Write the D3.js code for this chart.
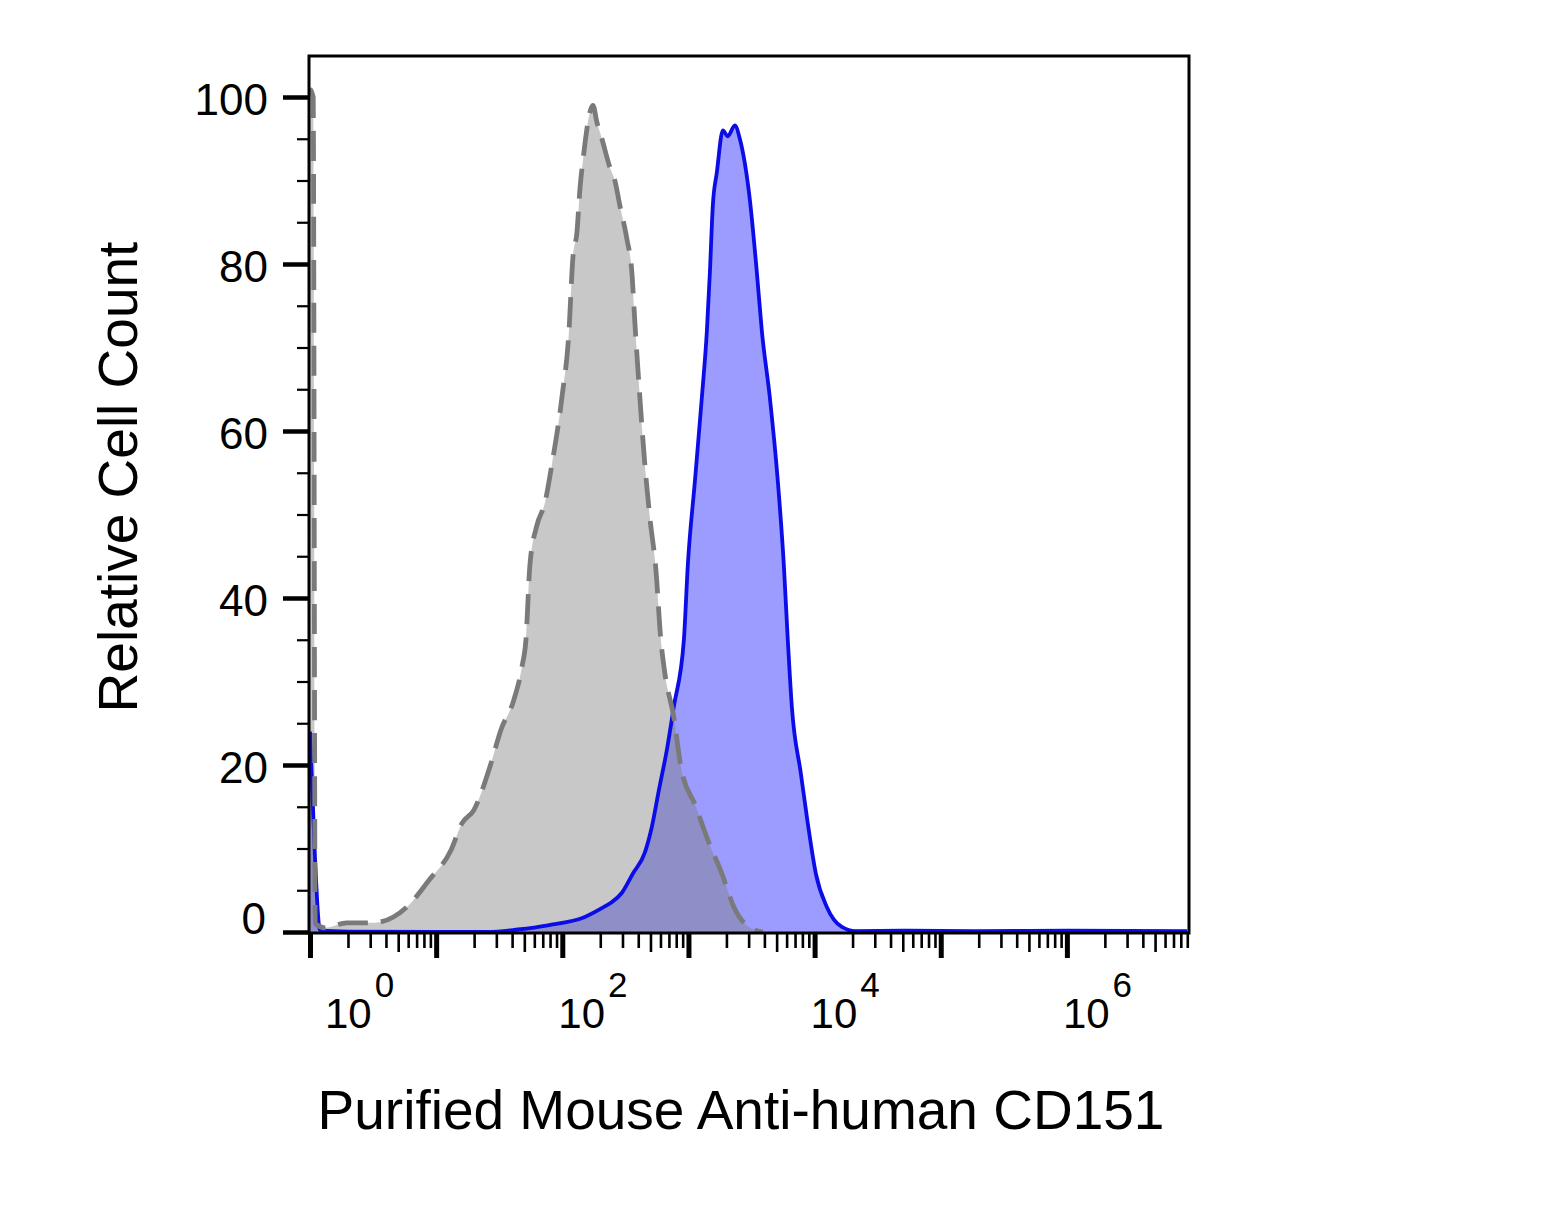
<!DOCTYPE html>
<html lang="en">
<head>
<meta charset="UTF-8">
<title>CD151 histogram</title>
<script src="https://cdn.jsdelivr.net/npm/d3@7"></script>
<style>
    html, body { margin: 0; padding: 0; background: #fff; }
    svg text { font-family: "Liberation Sans", Arial, sans-serif; fill: #000; }
</style>
</head>
<body>
<div id="chart"></div>
<script>
    // isotype control (grey, dashed)
    const isotypeIntensity = [1, 1.06, 1.1, 1.31, 1.96, 3.16, 5.87, 8.77, 13.1, 16.0, 19.9, 26.7, 32.6, 41.3, 47.8, 51.5, 55.4, 62.9, 72.8, 82.7, 99.3, 113, 121, 131, 138, 146, 175, 188, 206, 238, 261, 286, 325, 356, 376, 412, 451, 494, 552, 604, 650, 766, 871, 1145, 1425, 1841, 2290, 3010, 3890];
    const isotypeCount = [101, 100, 1, 0.5, 1.1, 1.1, 3.0, 6.2, 9.8, 13, 14.6, 19.8, 24.2, 27.8, 31.7, 35, 44, 48.7, 51.4, 56, 64, 72, 80.5, 84, 89, 92.5, 99, 97, 95, 91.6, 90, 87, 83, 79, 73, 64, 56, 49.7, 43.4, 35, 31, 25.7, 19.8, 15, 11, 7, 3, 0.6, 0];

    // CD151 stained (blue)
    const cd151Intensity = [1, 1.095, 1.2, 2, 10, 25.7, 44.5, 76.9, 151, 214, 243, 297, 363, 451, 513, 583, 674, 766, 920, 989, 1125, 1277, 1400, 1479, 1560, 1680, 1875, 2053, 2332, 2554, 3067, 3485, 3817, 4418, 5110, 5700, 6130, 6600, 7777, 8833, 10230, 12500, 16430, 21200, 50000, 200000, 1000000, 9000000];
    const cd151Count = [24, 8.9, 0.2, 0.05, 0, 0, 0.3, 0.8, 1.8, 3, 3.5, 4.7, 7, 9.5, 12.6, 17, 21.8, 27, 35, 44, 54, 64, 72, 79, 87, 91, 96, 95.3, 96.6, 95, 87.7, 79, 72, 64, 54, 44, 35, 27, 19, 13, 7, 3, 0.6, 0.1, 0.15, 0.1, 0.15, 0.1];

    const yMajorTicks = [0, 20, 40, 60, 80, 100];
    const yMinorTicks = d3.range(0, 101, 5).filter(v => v % 20 !== 0);
    const xDecades = [0, 1, 2, 3, 4, 5, 6];
    const xLabelDecades = [0, 2, 4, 6];

    const W = 1548, H = 1227;
    const plot = { left: 309, right: 1189, top: 56, bottom: 933 };

    const svg = d3.select("#chart").append("svg")
        .attr("width", W).attr("height", H)
        .attr("viewBox", [0, 0, W, H]);

    const x = d3.scaleLog().domain([1, Math.pow(10, 6.96)]).range([310, 1188]);
    const y = d3.scaleLinear().domain([0, 100]).range([932, 97]);

    svg.append("clipPath").attr("id", "plot-clip")
        .append("rect")
        .attr("x", plot.left).attr("y", plot.top)
        .attr("width", plot.right - plot.left).attr("height", plot.bottom - plot.top);

    const isotype = isotypeIntensity.map((v, i) => ({ v: v, c: isotypeCount[i] }));
    const cd151 = cd151Intensity.map((v, i) => ({ v: v, c: cd151Count[i] }));

    const area = d3.area()
        .x(d => x(d.v)).y0(y(0)).y1(d => y(d.c))
        .curve(d3.curveMonotoneX);
    const line = d3.line()
        .x(d => x(d.v)).y(d => y(d.c))
        .curve(d3.curveMonotoneX);

    const g = svg.append("g").attr("clip-path", "url(#plot-clip)");

    g.append("path").datum(cd151)
        .attr("d", area)
        .attr("fill", "#9c9cff");
    g.append("path").datum(isotype)
        .attr("d", area)
        .attr("fill", "rgb(128,128,128)")
        .attr("fill-opacity", 0.43);
    g.append("path").datum(cd151)
        .attr("d", line)
        .attr("fill", "none")
        .attr("stroke", "#0c0ce6")
        .attr("stroke-width", 3.8)
        .attr("stroke-linejoin", "round");
    g.append("path").datum(isotype)
        .attr("d", line)
        .attr("fill", "none")
        .attr("stroke", "#7a7a7a")
        .attr("stroke-width", 4.8)
        .attr("stroke-dasharray", "30,13");

    // frame
    svg.append("rect")
        .attr("x", plot.left).attr("y", plot.top)
        .attr("width", plot.right - plot.left).attr("height", plot.bottom - plot.top)
        .attr("fill", "none")
        .attr("stroke", "#000")
        .attr("stroke-width", 3);

    // y axis ticks
    const yMinor = svg.append("g")
        .attr("transform", `translate(${plot.left},0)`)
        .call(d3.axisLeft(y).tickValues(yMinorTicks).tickSize(12).tickFormat(""));
    yMinor.select(".domain").remove();
    yMinor.selectAll("line").attr("stroke-width", 2.2);

    const yMajor = svg.append("g")
        .attr("transform", `translate(${plot.left},0)`)
        .call(d3.axisLeft(y).tickValues(yMajorTicks).tickSize(26).tickFormat(""));
    yMajor.select(".domain").remove();
    yMajor.selectAll("line").attr("stroke-width", 4.5);

    svg.append("g").selectAll("text")
        .data(yMajorTicks)
        .join("text")
        .attr("x", d => d === 0 ? 266 : 268)
        .attr("y", d => d === 0 ? 918 : y(d) + 2)
        .attr("dy", "0.36em")
        .attr("text-anchor", "end")
        .attr("font-size", 44)
        .text(d => d);

    // x axis ticks
    const minorValues = [];
    xDecades.forEach(k => {
        for (let m = 2; m <= 9; m++) {
            const v = m * Math.pow(10, k);
            if (v <= x.domain()[1]) minorValues.push(v);
        }
    });

    const xMinor = svg.append("g")
        .attr("transform", `translate(0,${plot.bottom})`)
        .call(d3.axisBottom(x).tickValues(minorValues).tickSize(15).tickFormat(""));
    xMinor.select(".domain").remove();
    xMinor.selectAll("line")
        .attr("stroke-width", 2.6)
        .attr("y2", d => Math.round(d / Math.pow(10, Math.floor(Math.log10(d) + 1e-9))) === 5 ? 19 : 15);

    const xMajor = svg.append("g")
        .attr("transform", `translate(0,${plot.bottom})`)
        .call(d3.axisBottom(x).tickValues(xDecades.map(k => Math.pow(10, k))).tickSize(25).tickFormat(""));
    xMajor.select(".domain").remove();
    xMajor.selectAll("line").attr("stroke-width", 5);

    const xl = svg.append("g").selectAll("text")
        .data(xLabelDecades)
        .join("text")
        .attr("x", k => Math.max(x(Math.pow(10, k)) - 4, 325))
        .attr("y", 1028)
        .attr("font-size", 42);
    xl.append("tspan").text("10");
    xl.append("tspan")
        .attr("dx", 3)
        .attr("dy", -31)
        .attr("font-size", 35)
        .text(k => k);

    // axis titles
    svg.append("text")
        .attr("x", 741).attr("y", 1129)
        .attr("text-anchor", "middle")
        .attr("font-size", 55)
        .text("Purified Mouse Anti-human CD151");

    svg.append("text")
        .attr("transform", "translate(137,477) rotate(-90)")
        .attr("text-anchor", "middle")
        .attr("font-size", 55)
        .text("Relative Cell Count");
</script>
</body>
</html>
